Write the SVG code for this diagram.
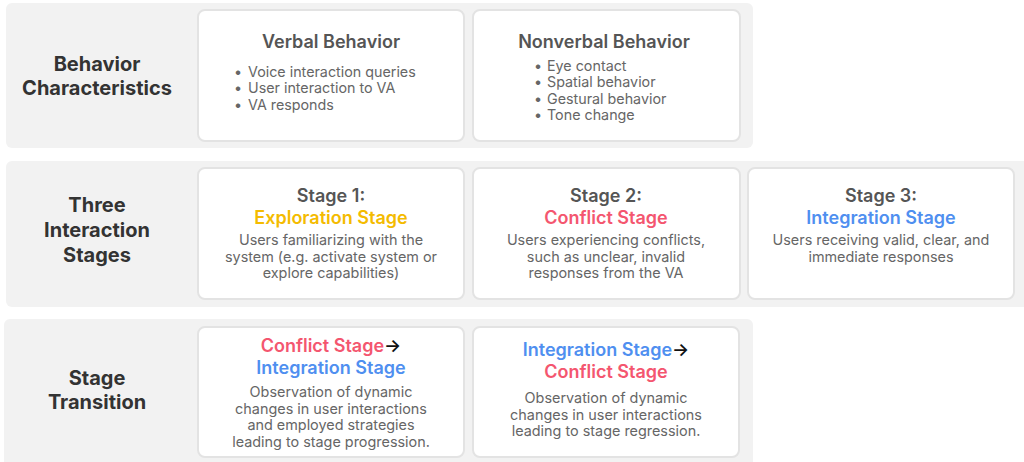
<svg xmlns="http://www.w3.org/2000/svg" width="1024" height="462" viewBox="0 0 1024 462">
<style>
.bg{fill:#f2f2f2}
.card{fill:#fff;stroke:#e3e3e3;stroke-width:2}
text{font-family:Inter,"Noto Sans","Liberation Sans",sans-serif}
.lab{font-size:20px;font-weight:700;fill:#333;text-anchor:middle}
.tt{font-size:18px;font-weight:600;fill:#555;text-anchor:middle}
.b{font-size:14.3px;fill:#666}
.d{font-size:14.4px;fill:#666;text-anchor:middle}
.y{fill:#f4bb00}
.r{fill:#f4566f}
.bl{fill:#4f8ff0}
.k{fill:#111}
</style>
<g id="row1">
<rect class="bg" x="6" y="3" width="747" height="145" rx="6"/>
<text class="lab" x="97" y="71">Behavior</text>
<text class="lab" x="97" y="95">Characteristics</text>
</g>
<g id="verbal">
<rect class="card" x="198" y="10" width="266" height="131" rx="7"/>
<text class="tt" x="331" y="48">Verbal Behavior</text>
<text class="b" x="234" y="77">•</text><text class="b" x="248" y="77">Voice interaction queries</text>
<text class="b" x="234" y="93">•</text><text class="b" x="248" y="93">User interaction to VA</text>
<text class="b" x="234" y="110">•</text><text class="b" x="248" y="110">VA responds</text>
</g>
<g id="nonverbal">
<rect class="card" x="473" y="10" width="267" height="131" rx="7"/>
<text class="tt" x="604" y="48">Nonverbal Behavior</text>
<text class="b" x="534" y="71">•</text><text class="b" x="547" y="71">Eye contact</text>
<text class="b" x="534" y="87">•</text><text class="b" x="547" y="87">Spatial behavior</text>
<text class="b" x="534" y="104">•</text><text class="b" x="547" y="104">Gestural behavior</text>
<text class="b" x="534" y="120">•</text><text class="b" x="547" y="120">Tone change</text>
</g>
<g id="row2">
<rect class="bg" x="6" y="161" width="1030" height="146" rx="6"/>
<text class="lab" x="97" y="212">Three</text>
<text class="lab" x="97" y="237">Interaction</text>
<text class="lab" x="97" y="262">Stages</text>
</g>
<g id="stage1">
<rect class="card" x="198" y="168" width="266" height="131" rx="7"/>
<text class="tt" x="331" y="202">Stage 1:</text>
<text class="tt y" x="331" y="224">Exploration Stage</text>
<text class="d" x="331" y="245">Users familiarizing with the</text>
<text class="d" x="331" y="262">system (e.g. activate system or</text>
<text class="d" x="331" y="278">explore capabilities)</text>
</g>
<g id="stage2">
<rect class="card" x="473" y="168" width="267" height="131" rx="7"/>
<text class="tt" x="606" y="202">Stage 2:</text>
<text class="tt r" x="606" y="224">Conflict Stage</text>
<text class="d" x="606" y="245">Users experiencing conflicts,</text>
<text class="d" x="606" y="262">such as unclear, invalid</text>
<text class="d" x="606" y="278">responses from the VA</text>
</g>
<g id="stage3">
<rect class="card" x="748" y="168" width="266" height="131" rx="7"/>
<text class="tt" x="881" y="202">Stage 3:</text>
<text class="tt bl" x="881" y="224">Integration Stage</text>
<text class="d" x="881" y="245">Users receiving valid, clear, and</text>
<text class="d" x="881" y="262">immediate responses</text>
</g>
<g id="row3">
<rect class="bg" x="4" y="319" width="749" height="150" rx="6"/>
<text class="lab" x="97" y="385">Stage</text>
<text class="lab" x="97" y="409">Transition</text>
</g>
<g id="trans1">
<rect class="card" x="198" y="327" width="266" height="130" rx="7"/>
<text class="tt" x="331" y="352"><tspan class="r">Conflict Stage</tspan><tspan class="k">→</tspan></text>
<text class="tt bl" x="331" y="374">Integration Stage</text>
<text class="d" x="331" y="397">Observation of dynamic</text>
<text class="d" x="331" y="414">changes in user interactions</text>
<text class="d" x="331" y="430">and employed strategies</text>
<text class="d" x="331" y="447">leading to stage progression.</text>
</g>
<g id="trans2">
<rect class="card" x="473" y="327" width="266" height="130" rx="7"/>
<text class="tt" x="606" y="356"><tspan class="bl">Integration Stage</tspan><tspan class="k">→</tspan></text>
<text class="tt r" x="606" y="378">Conflict Stage</text>
<text class="d" x="606" y="403">Observation of dynamic</text>
<text class="d" x="606" y="420">changes in user interactions</text>
<text class="d" x="606" y="436">leading to stage regression.</text>
</g>
<g id="connectors"></g>
</svg>
